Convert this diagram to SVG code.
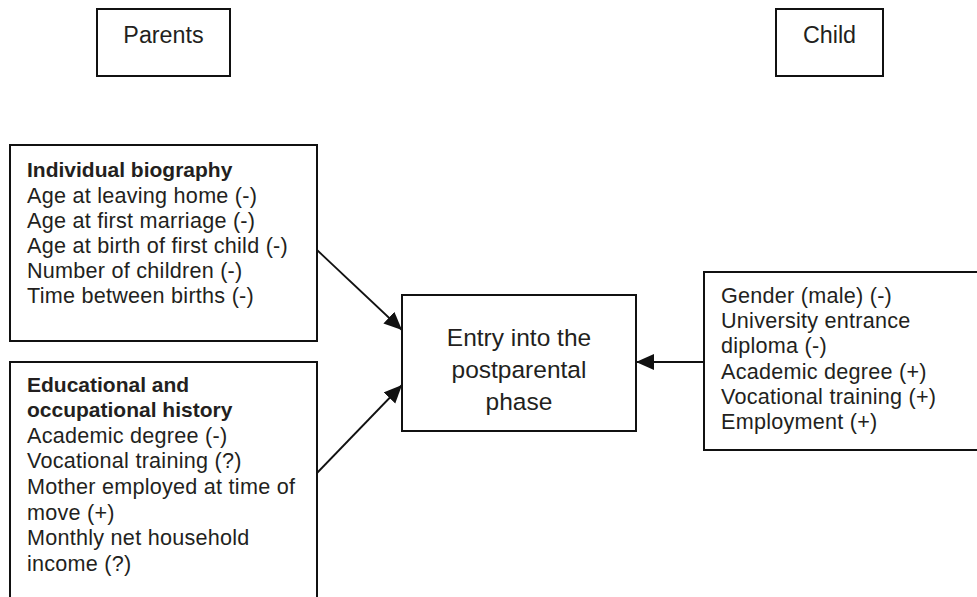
<svg xmlns="http://www.w3.org/2000/svg" width="977" height="597" viewBox="0 0 977 597">
<style>
  .box { fill: #ffffff; stroke: #111111; stroke-width: 2; }
  .t { font-family: "Liberation Sans", Arial, sans-serif; font-size: 21.6px; letter-spacing: 0.25px; fill: #231f20; }
  .b { font-weight: bold; font-size: 21px; letter-spacing: 0; }
  .hdr { font-family: "Liberation Sans", Arial, sans-serif; font-size: 23.3px; fill: #231f20; text-anchor: middle; }
  .ctr { font-family: "Liberation Sans", Arial, sans-serif; font-size: 24.5px; fill: #231f20; text-anchor: middle; }
  .conn { stroke: #111111; stroke-width: 1.8; fill: none; }
</style>
<defs>
  <marker id="arrow" markerUnits="userSpaceOnUse" markerWidth="19" markerHeight="17" refX="18" refY="8" orient="auto">
    <path d="M0,0 L18,8 L0,16 z" fill="#111111"/>
  </marker>
</defs>
<rect width="977" height="597" fill="#ffffff"/>

<g id="parents">
  <rect class="box" x="97" y="9" width="133" height="67"/>
  <text class="hdr" x="163.5" y="43">Parents</text>
</g>

<g id="child">
  <rect class="box" x="776" y="9" width="107" height="67"/>
  <text class="hdr" x="829.5" y="43">Child</text>
</g>

<g id="individual-biography">
  <rect class="box" x="10" y="145" width="307" height="196"/>
  <text class="t b" x="27" y="177">Individual biography</text>
  <text class="t" x="27" y="202.5">Age at leaving home (-)</text>
  <text class="t" x="27" y="227.5">Age at first marriage (-)</text>
  <text class="t" x="27" y="252.7">Age at birth of first child (-)</text>
  <text class="t" x="27" y="277.8">Number of children (-)</text>
  <text class="t" x="27" y="303">Time between births (-)</text>
</g>

<g id="educational-history">
  <rect class="box" x="10" y="362" width="307" height="250"/>
  <text class="t b" x="27" y="392">Educational and</text>
  <text class="t b" x="27" y="417">occupational history</text>
  <text class="t" x="27" y="442.7">Academic degree (-)</text>
  <text class="t" x="27" y="468.3">Vocational training (?)</text>
  <text class="t" x="27" y="494">Mother employed at time of</text>
  <text class="t" x="27" y="519.7">move (+)</text>
  <text class="t" x="27" y="545.2">Monthly net household</text>
  <text class="t" x="27" y="570.7">income (?)</text>
</g>

<g id="entry-postparental">
  <rect class="box" x="402" y="295" width="234" height="136"/>
  <text class="ctr" x="519" y="346">Entry into the</text>
  <text class="ctr" x="519" y="378">postparental</text>
  <text class="ctr" x="519" y="410">phase</text>
</g>

<g id="child-factors">
  <rect class="box" x="704" y="272" width="290" height="178"/>
  <text class="t" x="721" y="303.3">Gender (male) (-)</text>
  <text class="t" x="721" y="328.3">University entrance</text>
  <text class="t" x="721" y="353.3">diploma (-)</text>
  <text class="t" x="721" y="378.8">Academic degree (+)</text>
  <text class="t" x="721" y="404">Vocational training (+)</text>
  <text class="t" x="721" y="428.8">Employment (+)</text>
</g>

<g id="connectors">
  <line class="conn" x1="317" y1="250" x2="402" y2="330" marker-end="url(#arrow)"/>
  <line class="conn" x1="317" y1="473" x2="402" y2="385" marker-end="url(#arrow)"/>
  <line class="conn" x1="704" y1="362" x2="636" y2="362" marker-end="url(#arrow)"/>
</g>
</svg>
